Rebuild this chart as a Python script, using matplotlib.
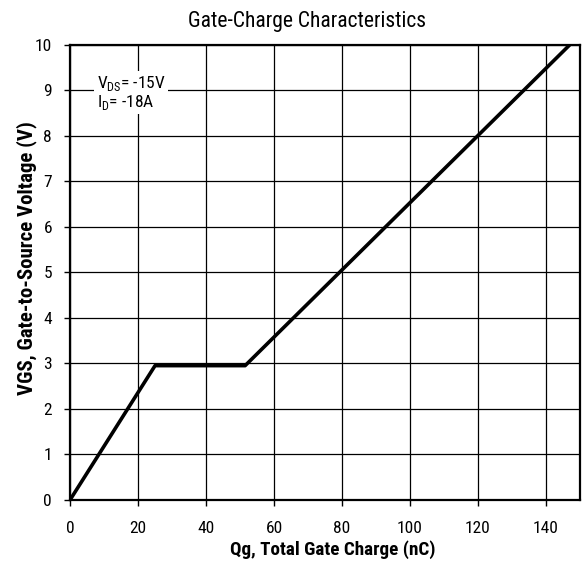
import matplotlib
matplotlib.use("Agg")
import matplotlib.pyplot as plt

plt.rcParams['font.family'] = ['Roboto Condensed', 'DejaVu Sans']

qg = [0, 25, 51.5, 147]
vgs = [0, 2.95, 2.95, 10]
x_ticks = [0, 20, 40, 60, 80, 100, 120, 140]
y_ticks = list(range(0, 11))

fig = plt.figure(figsize=(5.84, 5.61), dpi=100)
ax = fig.add_axes([0.12, 0.109, 0.873, 0.811])

ax.plot(qg, vgs, color='black', linewidth=2.6, solid_capstyle='butt', zorder=3)

ax.set_xlim(0, 150)
ax.set_ylim(0, 10)
ax.set_xticks(x_ticks)
ax.set_yticks(y_ticks)
ax.grid(True, color='black', linewidth=0.9)
ax.tick_params(labelsize=12.5, direction='out', length=4, width=1, pad=9)
ax.tick_params(axis='x', pad=11)
for s in ax.spines.values():
    s.set_linewidth(1.6)

# titles placed on the figure to line up with the reference
fig.text(0.5265, 0.952, "Gate-Charge Characteristics", fontsize=15.5, ha='center', va='baseline')
fig.text(0.570, 0.011, "Qg, Total Gate Charge (nC)", fontsize=13.8, fontweight='bold',
         ha='center', va='baseline')
fig.text(0.045, 0.540, "VGS, Gate-to-Source Voltage (V)", fontsize=15, fontweight='bold',
         rotation=90, ha='center', va='center')

ax.text(0.052, 0.895, "V$_{\\mathregular{DS}}$= -15V\nI$_{\\mathregular{D}}$= -18A",
        transform=ax.transAxes, fontsize=12.5, va='center', ha='left', linespacing=1.0,
        bbox=dict(facecolor='white', edgecolor='none', pad=2), zorder=4)

fig.savefig("out.png", dpi=100)
